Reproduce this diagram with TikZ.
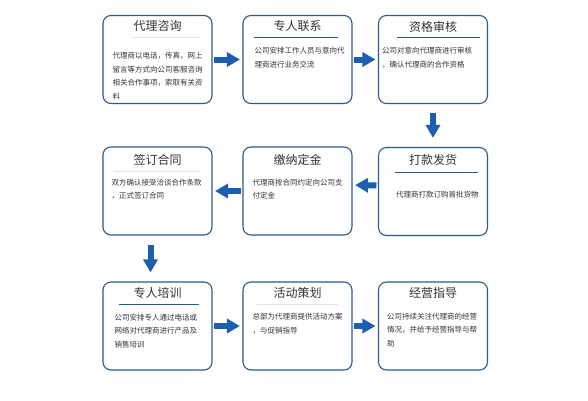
\documentclass[tikz,border=0pt]{standalone}
\usepackage{fontspec}
\setmainfont{Noto Sans CJK SC}
\usetikzlibrary{arrows.meta}
\definecolor{boxblue}{HTML}{2B5A8E}
\definecolor{arrblue}{HTML}{1D5FAE}
\definecolor{sepgray}{HTML}{E4E4E4}
\definecolor{txt}{HTML}{333333}
\begin{document}
\begin{tikzpicture}[x=1pt,y=-1pt,
 box/.style={draw=boxblue, line width=1.1pt, rounded corners=8pt, minimum width=109pt, minimum height=88pt, inner sep=0},
 ttl/.style={font=\fontsize{12}{14}\selectfont, text=txt, inner sep=0},
 body/.style={font=\fontsize{7.5}{13.5}\selectfont, text=txt, align=left, anchor=north west, inner sep=0},
 flow/.style={draw=arrblue, line width=6pt, -{Triangle[length=13pt,width=14pt]}, shorten <=1.5pt, shorten >=2.5pt},
 vflow/.style={flow, shorten <=9pt, shorten >=9pt},
 sepblue/.style={draw=boxblue, line width=0.8pt},
 sepfaint/.style={draw=sepgray, line width=0.6pt}]
\fill[white] (0,0) rectangle (588,400);
\useasboundingbox (0,0) rectangle (588,400);

% boxes
\node[box] (a1) at (157.5,59.5) {};
\node[box] (a2) at (297.5,59.5) {};
\node[box] (a3) at (433,59.5) {};
\node[box] (b1) at (157.5,191) {};
\node[box] (b2) at (297.5,191) {};
\node[box] (b3) at (433,191.5) {};
\node[box] (c1) at (157.5,326) {};
\node[box] (c2) at (297.5,326) {};
\node[box] (c3) at (433,326) {};

% titles
\node[ttl] (ta1) at ([shift={(0,11.5)}]a1.north) {代理咨询};
\node[ttl] (ta2) at ([shift={(0,11.5)}]a2.north) {专人联系};
\node[ttl] (ta3) at ([shift={(0,11.5)}]a3.north) {资格审核};
\node[ttl] (tb1) at ([shift={(0,13)}]b1.north) {签订合同};
\node[ttl] (tb2) at ([shift={(0,13)}]b2.north) {缴纳定金};
\node[ttl] (tb3) at ([shift={(0,13)}]b3.north) {打款发货};
\node[ttl] (tc1) at ([shift={(0,11.5)}]c1.north) {专人培训};
\node[ttl] (tc2) at ([shift={(0,11.5)}]c2.north) {活动策划};
\node[ttl] (tc3) at ([shift={(0,11.5)}]c3.north) {经营指导};

% separators
\draw[sepfaint] ([shift={(29,22)}]a1.north west) -- ([shift={(-12,22)}]a1.north east);
\draw[sepblue] ([shift={(12,22)}]a2.north west) -- ([shift={(-15,22)}]a2.north east);
\draw[sepblue] ([shift={(19,22)}]a3.north west) -- ([shift={(-8,22)}]a3.north east);
\draw[sepfaint] ([shift={(12,25)}]b1.north west) -- ([shift={(-12,25)}]b1.north east);
\draw[sepblue] ([shift={(17,25)}]b3.north west) -- ([shift={(-10,25)}]b3.north east);
\draw[sepblue] ([shift={(17,23)}]c1.north west) -- ([shift={(-14,23)}]c1.north east);
\draw[sepfaint] ([shift={(15,23)}]c2.north west) -- ([shift={(-15,23)}]c2.north east);

% body texts
\node[body] (da1) at ([shift={(10,37.5)}]a1.north west) {代理商以电话，传真，网上\\留言等方式向公司客服咨询\\相关合作事项，索取有关资\\料};
\node[body] (da2) at ([shift={(12,32)}]a2.north west) {公司安排工作人员与意向代\\理商进行业务交流};
\node[body] (da3) at ([shift={(4,32)}]a3.north west) {公司对意向代理商进行审核\\，确认代理商的合作资格};
\node[body] (db1) at ([shift={(9,32)}]b1.north west) {双方确认接受洽谈合作条款\\，正式签订合同};
\node[body] (db2) at ([shift={(10,32)}]b2.north west) {代理商按合同约定向公司支\\付定金};
\node[body] (db3) at ([shift={(18,44)}]b3.north west) {代理商打款订购首批货物};
\node[body] (dc1) at ([shift={(12,32.5)}]c1.north west) {公司安排专人通过电话或\\网络对代理商进行产品及\\销售培训};
\node[body] (dc2) at ([shift={(10,31.5)}]c2.north west) {总部为代理商提供活动方案\\，与促销指导};
\node[body] (dc3) at ([shift={(9,31.5)}]c3.north west) {公司持续关注代理商的经营\\情况，并给予经营指导与帮\\助};

% arrows
\draw[flow] (a1) -- (a2);
\draw[flow] (a2) -- (a3);
\draw[vflow] (a3.south) -- (b3.north);
\draw[flow] ([yshift=6pt]b3.west) -- ([yshift=6pt]b2.east);
\draw[flow] (b2) -- (b1);
\draw[vflow] ([xshift=-7pt]b1.south) -- ([xshift=-7pt]c1.north);
\draw[flow] (c1) -- (c2);
\draw[flow] (c2) -- (c3);
\end{tikzpicture}
\end{document}
